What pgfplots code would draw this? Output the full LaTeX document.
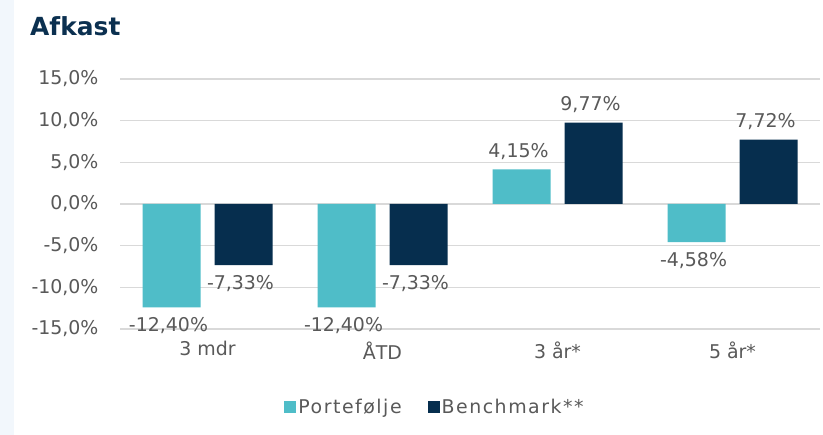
\documentclass[border=0pt]{standalone}
\usepackage{fontspec}
\setmainfont{DejaVu Sans}
\usepackage{pgfplots}
\pgfplotsset{compat=1.18}
\definecolor{portcol}{HTML}{4FBDC8}
\definecolor{benchcol}{HTML}{062E4E}
\definecolor{titlecol}{HTML}{0B3050}
\definecolor{stripcol}{HTML}{F2F7FC}
\definecolor{labelgray}{HTML}{595959}
\definecolor{gridgray}{HTML}{D9D9D9}
\begin{document}
\begin{tikzpicture}[x=1bp,y=1bp]
\useasboundingbox (0,0) rectangle (823,435);
\fill[white] (0,0) rectangle (823,435);
\fill[stripcol] (0,0) rectangle (14,435);
\node[anchor=base west, font=\fontsize{25}{28}\selectfont\bfseries, text=titlecol, inner sep=0] at (30,399) {Afkast};
\begin{axis}[
  at={(120bp,106bp)}, anchor=south west,
  scale only axis, width=700bp, height=250bp,
  ymin=-15, ymax=15, ytick={-15,-10,...,15},
  xmin=-0.5, xmax=3.5, xtick={0,1,2,3},
  xticklabels={3 mdr, ÅTD, 3 år*, 5 år*},
  axis line style={draw=none},
  major tick length=0pt,
  ymajorgrids, grid style={gridgray, line width=1.5bp},
  /pgf/number format/assume math mode=true,
  ticklabel style={font=\fontsize{19}{21}\selectfont, text=labelgray},
  yticklabel={\pgfmathprintnumber[fixed,fixed zerofill,precision=1,use comma]{\tick}\%},
  yticklabel style={xshift=-18bp},
  xticklabel style={yshift=-9bp},
  ybar=14bp, bar width=58bp,
  legend style={at={(axis description cs:0.45,-0.312)}, anchor=center, draw=none, fill=none,
    legend columns=2, font=\fontsize{19}{21}\selectfont\addfontfeature{LetterSpace=8}, text=labelgray,
    /tikz/every even column/.append style={column sep=24bp}},
  legend image code/.code={\fill[#1] (0bp,-6bp) rectangle (12bp,6bp);},
  nodes near coords={\pgfmathprintnumber[fixed,fixed zerofill,precision=2,use comma,assume math mode=true]{\pgfplotspointmeta}\%},
  every node near coord/.append style={font=\fontsize{19}{21}\selectfont, text=labelgray, inner ysep=10bp, xshift=-3bp},
  nodes near coords align={vertical},
]
\addplot[fill=portcol, draw=none]
  coordinates {(0,-12.40) (1,-12.40) (2,4.15) (3,-4.58)};
\addplot[fill=benchcol, draw=none]
  coordinates {(0,-7.33) (1,-7.33) (2,9.77) (3,7.72)};
\legend{Portefølje, Benchmark**}
\end{axis}
\end{tikzpicture}
\end{document}
